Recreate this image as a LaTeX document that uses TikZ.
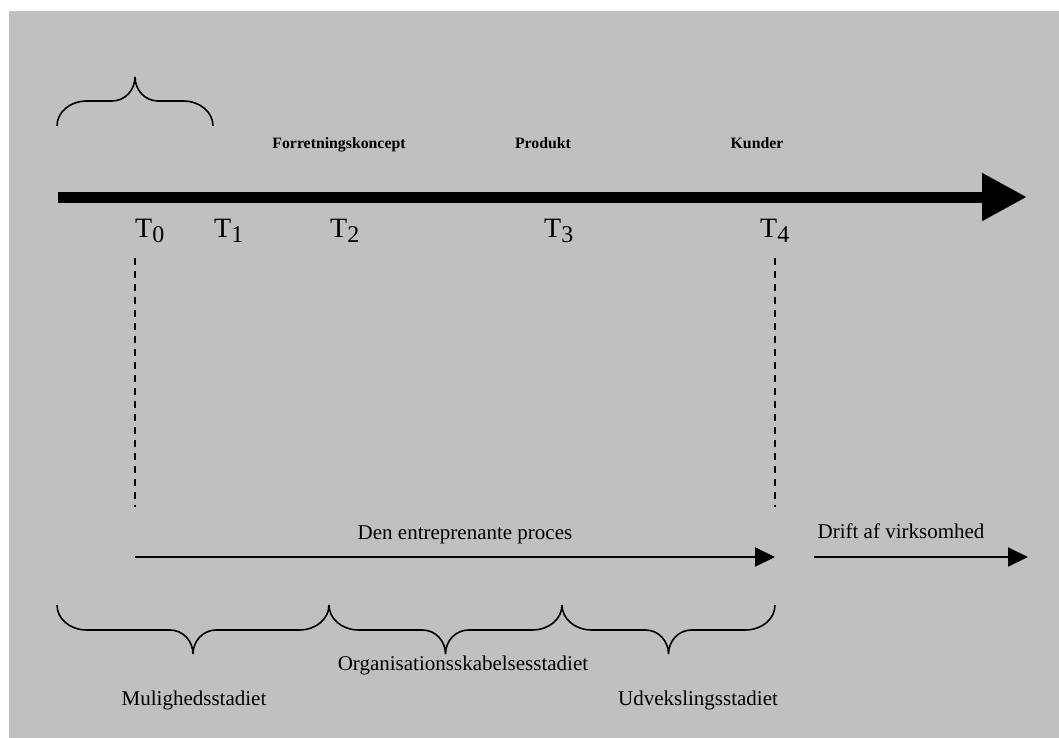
\documentclass[tikz,border=0pt]{standalone}
\usepackage{fontspec}
\setmainfont{Liberation Serif}
\usetikzlibrary{arrows.meta}
\definecolor{bggray}{HTML}{C0C0C0}
\newcommand\tsubx[1]{{\fontsize{24}{24}\selectfont\raisebox{-5pt}{#1}}}
% brace: x1, x2, y of ends, direction (+1 down, -1 up)
\newcommand\mybrace[4]{%
  \draw[brc] (#1,#3) .. controls (#1,#3+14*#4) and (#1+13,#3+25*#4) .. (#1+30,#3+25*#4)
    -- ({(#1+#2)/2-23},#3+25*#4)
    .. controls ({(#1+#2)/2-10},#3+25*#4) and ({(#1+#2)/2},#3+36*#4) .. ({(#1+#2)/2},#3+49*#4)
    .. controls ({(#1+#2)/2},#3+36*#4) and ({(#1+#2)/2+10},#3+25*#4) .. ({(#1+#2)/2+23},#3+25*#4)
    -- (#2-30,#3+25*#4)
    .. controls (#2-13,#3+25*#4) and (#2,#3+14*#4) .. (#2,#3);}
\begin{document}
\begin{tikzpicture}[x=1pt,y=-1pt,
  lbl/.style={font=\fontsize{21}{24}\selectfont, anchor=base, inner sep=0pt},
  tlbl/.style={font=\fontsize{28}{30}\selectfont, anchor=base west, inner sep=0pt},
  toplbl/.style={font=\fontsize{15.8}{17}\selectfont\bfseries, anchor=base, inner sep=0pt},
  brc/.style={line width=1.6pt},
  dashline/.style={line width=2.4pt, dash pattern=on 7pt off 6pt},
  thinarrow/.style={line width=2pt, -{Triangle[length=20pt,width=19pt]}},
  timeline/.style={line width=11pt, -{Triangle[length=45pt,width=45pt]}}
]
\useasboundingbox (0,0) rectangle (1059,738);
\fill[bggray] (9,11) rectangle (1059,738);

% main timeline
\coordinate (tl0) at (58,197);
\coordinate (tl1) at (1027,197);
\draw[timeline] (tl0) -- (tl1);

% top brace
\mybrace{57}{213}{126}{-1}

% labels above timeline
\node[toplbl] (fk) at (339,149) {Forretningskoncept};
\node[toplbl] (pr) at (543,149) {Produkt};
\node[toplbl] (ku) at (757,149) {Kunder};

% T labels
\node[tlbl] (t0) at (135,237) {T\tsubx{0}};
\node[tlbl] (t1) at (214,237) {T\tsubx{1}};
\node[tlbl] (t2) at (330,237) {T\tsubx{2}};
\node[tlbl] (t3) at (544,237) {T\tsubx{3}};
\node[tlbl] (t4) at (760,237) {T\tsubx{4}};

% dashed lines
\coordinate (d0a) at (135,258);
\coordinate (d0b) at (135,507);
\coordinate (d4a) at (775,258);
\coordinate (d4b) at (775,507);
\draw[dashline] (d0a) -- (d0b);
\draw[dashline] (d4a) -- (d4b);

% process arrows
\coordinate (pa) at (135,557);
\coordinate (pb) at (775,557);
\draw[thinarrow] (pa) -- (pb);
\node[lbl] (dep) at (465,539) {Den entreprenante proces};

\coordinate (da) at (814,557);
\coordinate (db) at (1028,557);
\draw[thinarrow] (da) -- (db);
\node[lbl] (dav) at (901,538) {Drift af virksomhed};

% bottom braces
\mybrace{57}{329}{605}{1}
\mybrace{329}{562}{605}{1}
\mybrace{562}{775}{605}{1}

\node[lbl] (org) at (463,670) {Organisationsskabelsesstadiet};
\node[lbl] (mul) at (194,705) {Mulighedsstadiet};
\node[lbl] (udv) at (698,705) {Udvekslingsstadiet};
\end{tikzpicture}
\end{document}
